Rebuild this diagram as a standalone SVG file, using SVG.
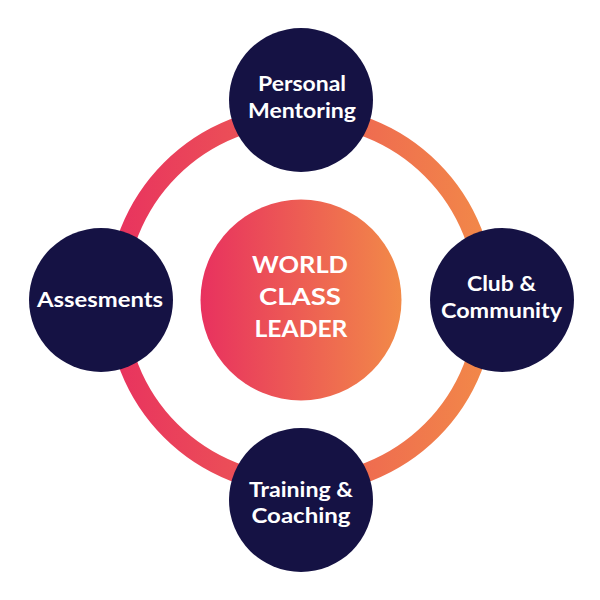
<svg xmlns="http://www.w3.org/2000/svg" width="600" height="600" viewBox="0 0 600 600">
<defs>
<linearGradient id="grad" x1="0" y1="0" x2="1" y2="0">
<stop offset="0" stop-color="#E8315F"/>
<stop offset="1" stop-color="#F28A48"/>
</linearGradient>
<linearGradient id="ringGrad" gradientUnits="userSpaceOnUse" x1="107" y1="0" x2="495" y2="0">
<stop offset="0" stop-color="#E8315F"/>
<stop offset="1" stop-color="#F28A48"/>
</linearGradient>
<style>
.node{fill:#151244;}
.lbl{font-family:Lato,"Open Sans","Liberation Sans",sans-serif;font-weight:bold;font-size:21px;fill:#FFFFFF;text-anchor:middle;}
.big{font-size:23px;}
</style>
</defs>
<rect width="600" height="600" fill="#FFFFFF"/>
<g id="connectors">
<circle cx="301" cy="300" r="184.5" fill="none" stroke="url(#ringGrad)" stroke-width="19"/>
</g>
<g id="center">
<circle cx="301" cy="300" r="100.5" fill="url(#grad)"/>
<text class="lbl big" x="300" y="273" textLength="96" lengthAdjust="spacingAndGlyphs">WORLD</text>
<text class="lbl big" x="300" y="305" textLength="82" lengthAdjust="spacingAndGlyphs">CLASS</text>
<text class="lbl big" x="301" y="337" textLength="93" lengthAdjust="spacingAndGlyphs">LEADER</text>
</g>
<g id="personal-mentoring">
<circle class="node" cx="301" cy="100" r="72"/>
<text class="lbl" x="302" y="91" textLength="88" lengthAdjust="spacingAndGlyphs">Personal</text>
<text class="lbl" x="302" y="118" textLength="108" lengthAdjust="spacingAndGlyphs">Mentoring</text>
</g>
<g id="assesments">
<circle class="node" cx="101" cy="300" r="72"/>
<text class="lbl" x="100" y="307" textLength="126" lengthAdjust="spacingAndGlyphs">Assesments</text>
</g>
<g id="club-community">
<circle class="node" cx="502" cy="300" r="72"/>
<text class="lbl" x="501.5" y="291" textLength="69" lengthAdjust="spacingAndGlyphs">Club &amp;</text>
<text class="lbl" x="501.5" y="318" textLength="121" lengthAdjust="spacingAndGlyphs">Community</text>
</g>
<g id="training-coaching">
<circle class="node" cx="301" cy="500" r="72"/>
<text class="lbl" x="301" y="497" textLength="104" lengthAdjust="spacingAndGlyphs">Training &amp;</text>
<text class="lbl" x="301" y="523" textLength="99" lengthAdjust="spacingAndGlyphs">Coaching</text>
</g>
</svg>
